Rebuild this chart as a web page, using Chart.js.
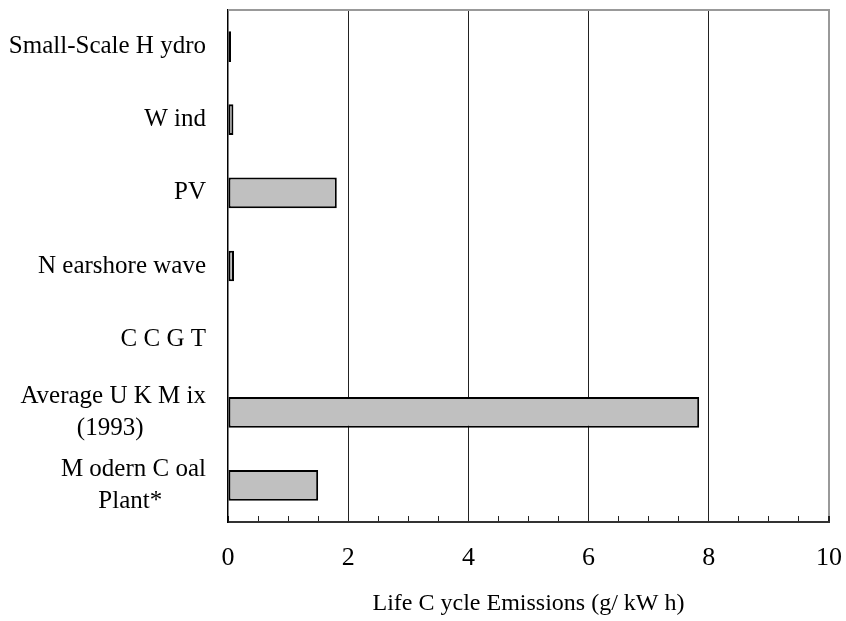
<!DOCTYPE html>
<html><head><meta charset="utf-8">
<script src="https://cdn.jsdelivr.net/npm/chart.js@4/dist/chart.umd.min.js"></script>
<style>html,body{margin:0;padding:0;background:#fff;}#wrap{width:846px;height:621px;}</style>
</head><body><div id="wrap"><canvas id="c" width="846" height="621"></canvas></div>
<script>
// ---- data ----
const categories = [
  "Small-Scale H ydro",
  "W ind",
  "PV",
  "N earshore wave",
  "C C G T",
  ["Average U K M ix", "(1993)          "],
  ["M odern C oal", "Plant*       "]
];
const emissions = [0.05, 0.09, 1.81, 0.1, 0, 7.84, 1.5];
const xTickLabels = [0, 2, 4, 6, 8, 10];
const axisTitle = "Life C ycle Emissions (g/ kW h)";

const FONT = "'Liberation Serif', 'Times New Roman', serif";

const framePlugin = {
  id: 'frameTop',
  afterDatasetsDraw(chart) {
    const {ctx, chartArea: a} = chart;
    ctx.save();
    ctx.strokeStyle = '#999';
    ctx.lineWidth = 2;
    ctx.beginPath();
    ctx.moveTo(a.left, a.top);
    ctx.lineTo(a.right + 1, a.top);
    ctx.stroke();
    ctx.restore();
  }
};

new Chart(document.getElementById('c'), {
  type: 'bar',
  data: {
    labels: categories,
    datasets: [{
      data: emissions,
      backgroundColor: '#c0c0c0',
      borderColor: '#000',
      borderWidth: 2,
      borderSkipped: false,
      barPercentage: 0.84,
      categoryPercentage: 0.5
    }]
  },
  options: {
    indexAxis: 'y',
    responsive: false,
    devicePixelRatio: 1,
    animation: false,
    layout: { padding: { top: 10, right: 17, left: 0, bottom: 0 } },
    plugins: { legend: { display: false }, tooltip: { enabled: false } },
    scales: {
      x: {
        type: 'linear',
        position: 'bottom',
        min: 0,
        max: 10,
        ticks: {
          stepSize: 0.5,
          autoSkip: false,
          maxRotation: 0,
          color: '#000',
          padding: 27,
          font: { family: FONT, size: 26 },
          callback: v => xTickLabels.includes(v) ? String(v) : ''
        },
        grid: {
          color: c => {
            const v = c.tick ? c.tick.value : null;
            if (v === 10) return '#999';
            if (v !== null && v > 0 && v % 2 === 0) return '#222';
            return 'rgba(0,0,0,0)';
          },
          lineWidth: c => (c.tick && c.tick.value === 10) ? 2 : 1,
          tickColor: '#222',
          tickLength: -6,
          drawTicks: true
        },
        border: { display: true, color: '#333', width: 2 },
        title: {
          display: true,
          text: axisTitle,
          color: '#000',
          font: { family: FONT, size: 24 },
          padding: { top: 0, bottom: 3 }
        },
        afterFit: s => { s.height = 99; s.paddingLeft = 0; s.paddingRight = 0; }
      },
      y: {
        type: 'category',
        position: 'left',
        ticks: {
          color: '#000',
          padding: 22,
          autoSkip: false,
          font: { family: FONT, size: 25, lineHeight: 1.3 }
        },
        grid: { display: false, drawTicks: false },
        border: { display: true, color: '#000', width: 1.5 },
        afterFit: s => { s.width = 228; s.paddingTop = 0; s.paddingBottom = 0; }
      }
    }
  },
  plugins: [framePlugin]
});
</script>
</body></html>
